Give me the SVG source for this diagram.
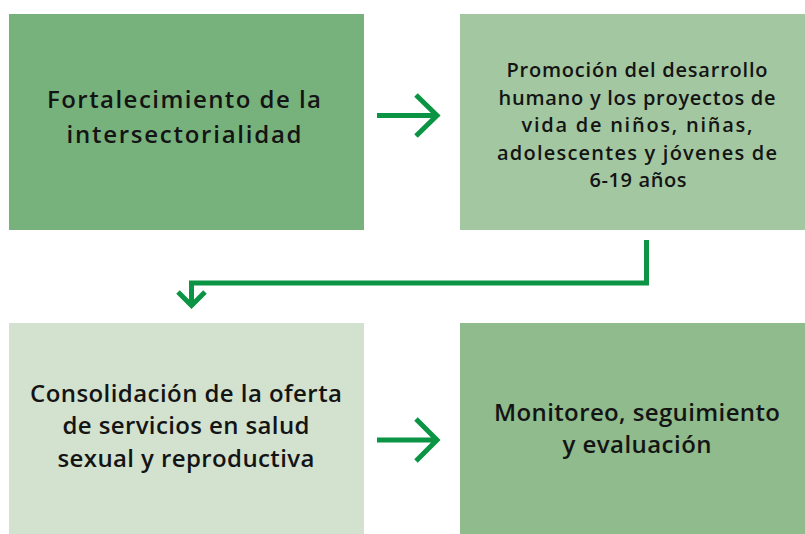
<svg xmlns="http://www.w3.org/2000/svg" width="805" height="534" viewBox="0 0 805 534">
<style>
text{font-family:"Open Sans","Noto Sans",sans-serif;font-weight:600;fill:#141414;text-anchor:middle}
.big{font-size:24px}
.sm{font-size:20px}
.ar{fill:none;stroke:#0a9444;stroke-width:5}
</style>
<rect width="805" height="534" fill="#ffffff"/>
<g id="node1">
<rect x="9" y="14" width="355" height="216" fill="#77b27c"/>
<text class="big" x="184" y="108" textLength="274" lengthAdjust="spacing">Fortalecimiento de la</text>
<text class="big" x="184" y="143" textLength="235" lengthAdjust="spacing">intersectorialidad</text>
</g>
<g id="node2">
<rect x="460" y="14" width="345" height="216" fill="#a3c8a1"/>
<text class="sm" x="637" y="77" textLength="261" lengthAdjust="spacing">Promoción del desarrollo</text>
<text class="sm" x="637" y="105" textLength="277" lengthAdjust="spacing">humano y los proyectos de</text>
<text class="sm" x="637" y="132" textLength="231" lengthAdjust="spacing">vida de niños, niñas,</text>
<text class="sm" x="637" y="160" textLength="280" lengthAdjust="spacing">adolescentes y jóvenes de</text>
<text class="sm" x="638" y="187" textLength="97" lengthAdjust="spacing">6-19 años</text>
</g>
<g id="node3">
<rect x="9" y="323" width="355" height="211" fill="#d2e2ce"/>
<text class="big" x="186" y="402" textLength="312" lengthAdjust="spacing">Consolidación de la oferta</text>
<text class="big" x="186" y="434" textLength="247" lengthAdjust="spacing">de servicios en salud</text>
<text class="big" x="186" y="467" textLength="257" lengthAdjust="spacing">sexual y reproductiva</text>
</g>
<g id="node4">
<rect x="460" y="323" width="345" height="211" fill="#8fbb8d"/>
<text class="big" x="637" y="421" textLength="286" lengthAdjust="spacing">Monitoreo, seguimiento</text>
<text class="big" x="637" y="453" textLength="149" lengthAdjust="spacing">y evaluación</text>
</g>
<g id="connectors">
<path class="ar" d="M377 115.5H437M416 95L437 115.5L416 136"/>
<path class="ar" d="M377 440H437M416 419L437 440L416 461"/>
<path class="ar" d="M646.5 240V283H191.5V305M178 292L191.5 305.5L205 292"/>
</g>
</svg>
